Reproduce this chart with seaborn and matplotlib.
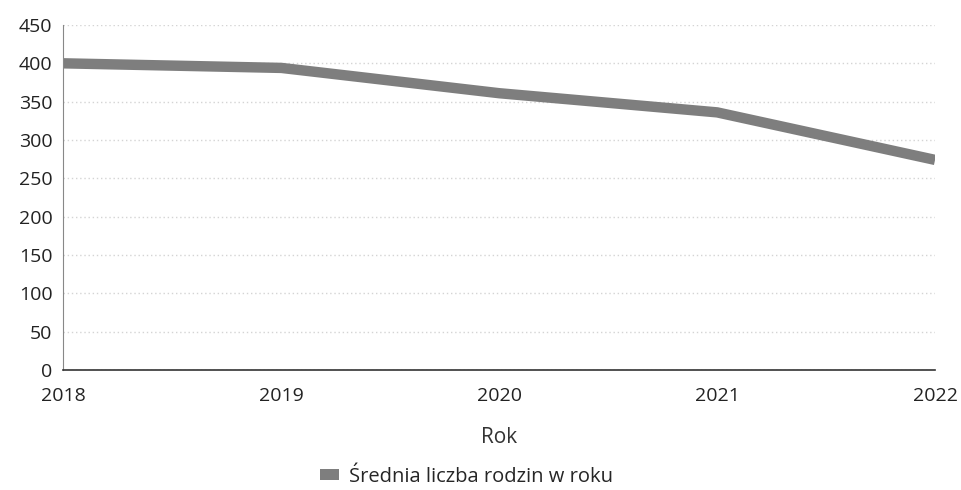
import pandas as pd
import seaborn as sns
import matplotlib.pyplot as plt
from matplotlib.patches import Patch

years = [2018, 2019, 2020, 2021, 2022]
avg_families = [400, 394, 361, 336, 274]
series_name = 'Średnia liczba rodzin w roku'

df = pd.DataFrame({'Rok': years, 'value': avg_families})

sns.set_style('white')
plt.rcParams['font.family'] = ['Open Sans', 'DejaVu Sans']

fig, ax = plt.subplots(figsize=(9.62, 4.9), dpi=100)
fig.subplots_adjust(left=0.066, right=0.972, top=0.949, bottom=0.245)

sns.lineplot(data=df, x='Rok', y='value', color='#7e7e7e', linewidth=7.5,
             solid_capstyle='butt', ax=ax)

ax.set_xlim(2018, 2022)
ax.set_ylim(0, 450)
ax.set_xticks(years)
ax.set_xticklabels([str(y) for y in years])
ax.set_yticks(range(0, 451, 50))
ax.tick_params(axis='both', labelsize=14, colors='#222222', length=0)
ax.tick_params(axis='x', pad=12)
ax.tick_params(axis='y', pad=8)
ax.yaxis.grid(True, linestyle=(0, (1, 2)), color='#d4d4d4', linewidth=1)
ax.set_axisbelow(True)

for s in ['top', 'right']:
    ax.spines[s].set_visible(False)
ax.spines['left'].set_linestyle((0, (1, 1)))
ax.spines['left'].set_color('#888888')
ax.spines['left'].set_linewidth(0.8)
ax.spines['bottom'].set_color('#333333')
ax.spines['bottom'].set_linewidth(1.2)

ax.set_xlabel('Rok', fontsize=15, color='#333333', labelpad=16)
ax.set_ylabel('')

handle = Patch(facecolor='#7e7e7e', edgecolor='none')
fig.legend([handle], [series_name], loc='center', bbox_to_anchor=(0.485, 0.027),
           frameon=False, fontsize=14.5, handlelength=0.9, handleheight=0.45,
           handletextpad=0.5)

fig.savefig('out.png', dpi=100)
